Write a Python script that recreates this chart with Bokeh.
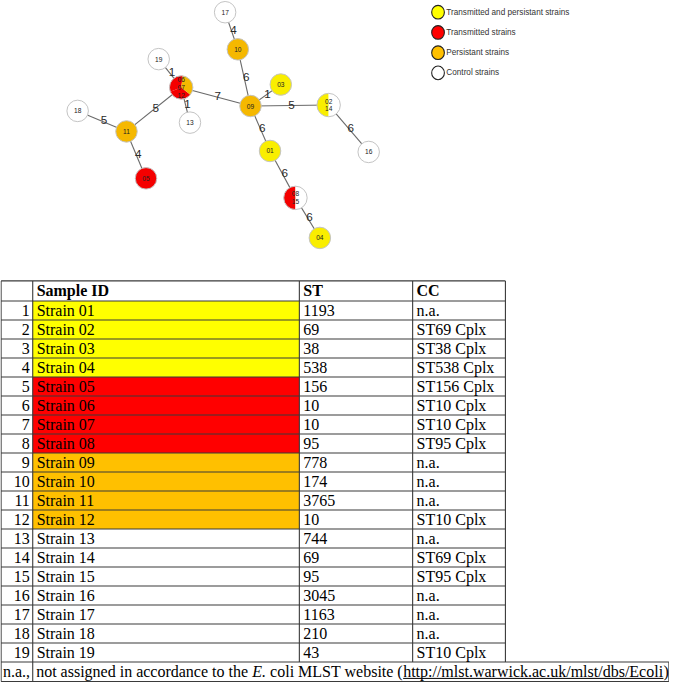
import math
from bokeh.plotting import figure
from bokeh.models import Range1d
from bokeh.core.properties import value
from bokeh.embed import file_html
from bokeh.resources import INLINE

# ---------------- data ----------------
row_numbers = [1, 2, 3, 4, 5, 6, 7, 8, 9, 10, 11, 12, 13, 14, 15, 16, 17, 18, 19]
sample_ids = ["Strain 01", "Strain 02", "Strain 03", "Strain 04", "Strain 05",
              "Strain 06", "Strain 07", "Strain 08", "Strain 09", "Strain 10",
              "Strain 11", "Strain 12", "Strain 13", "Strain 14", "Strain 15",
              "Strain 16", "Strain 17", "Strain 18", "Strain 19"]
st_values = ["1193", "69", "38", "538", "156", "10", "10", "95", "778", "174",
             "3765", "10", "744", "69", "95", "3045", "1163", "210", "43"]
cc_values = ["n.a.", "ST69 Cplx", "ST38 Cplx", "ST538 Cplx", "ST156 Cplx",
             "ST10 Cplx", "ST10 Cplx", "ST95 Cplx", "n.a.", "n.a.", "n.a.",
             "ST10 Cplx", "n.a.", "ST69 Cplx", "ST95 Cplx", "n.a.", "n.a.",
             "n.a.", "ST10 Cplx"]
categories = ["both", "both", "both", "both",
              "transmitted", "transmitted", "transmitted", "transmitted",
              "persistent", "persistent", "persistent", "persistent",
              "control", "control", "control", "control", "control", "control", "control"]
header_labels = ["Sample ID", "ST", "CC"]
footnote_abbrev = "n.a.,"
footnote_parts = ["not assigned in accordance to the ", "E.", " coli MLST website (",
                  "http://mlst.warwick.ac.uk/mlst/dbs/Ecoli", ")"]

legend_labels = ["Transmitted and persistant strains", "Transmitted strains",
                 "Persistant strains", "Control strains"]
legend_categories = ["both", "transmitted", "persistent", "control"]

# minimum-spanning-tree nodes (strain numbers in each node)
node_groups = [["01"], ["02", "14"], ["03"], ["04"], ["05"], ["06", "07", "12"],
               ["08", "15"], ["09"], ["10"], ["11"], ["13"], ["16"], ["17"],
               ["18"], ["19"]]
# tree edges: (node, node, allelic differences)
edge_from = ["17", "10", "09", "09", "09", "09", "01", "08/15", "02/14", "19",
             "06/07/12", "06/07/12", "11", "11"]
edge_to = ["10", "09", "03", "02/14", "01", "06/07/12", "08/15", "04", "16",
           "06/07/12", "13", "11", "18", "05"]
edge_weight = [4, 6, 1, 5, 6, 7, 6, 6, 6, 1, 1, 5, 5, 4]

# graph layout (image-space coordinates of the drawn tree)
layout_x = [276, 336, 287, 327, 149, 185, 302, 256, 243, 129, 194, 377, 230, 79, 162]
layout_y = [154, 107, 86, 243, 182, 89, 202, 108, 50, 134, 125, 155, 12, 113, 60]

# ---------------- styling ----------------
W_REF, H_REF = 685, 698
PW, PH = 669, 682
S = PW / W_REF

net_colors = {"both": "#F9EE00", "transmitted": "#F40000",
              "persistent": "#F5B800", "control": "#FFFFFF"}
tab_colors = {"both": "#FFFF00", "transmitted": "#FF0000", "persistent": "#FFC000"}
leg_colors = {"both": "#FFFF00", "transmitted": "#FF0000",
              "persistent": "#FFC000", "control": "#FFFFFF"}

def Y(y):
    return H_REF - y

p = figure(width=PW, height=PH, x_range=Range1d(0, W_REF), y_range=Range1d(0, H_REF),
           output_backend="svg", toolbar_location=None, min_border=0,
           x_axis_location=None, y_axis_location=None)
p.grid.visible = False
p.outline_line_color = None
p.background_fill_color = "white"

SANS = value("Liberation Sans")

# ---------------- network ----------------
keys = ["/".join(g) for g in node_groups]
pos = {k: (x, Y(y)) for k, x, y in zip(keys, layout_x, layout_y)}
strain_cat = {sid.split()[-1]: c for sid, c in zip(sample_ids, categories)}

ex0 = [pos[a][0] for a in edge_from]
ey0 = [pos[a][1] for a in edge_from]
ex1 = [pos[b][0] for b in edge_to]
ey1 = [pos[b][1] for b in edge_to]
p.segment(ex0, ey0, ex1, ey1, line_color="#6a6a6a", line_width=1.1)

lx = [(a + b) / 2 + 2 for a, b in zip(ex0, ex1)]
ly = [(a + b) / 2 + 1 for a, b in zip(ey0, ey1)]
p.text(lx, ly, text=[str(w) for w in edge_weight], text_font=SANS,
       text_font_size=f"{12*S:.1f}px", text_color="#2a2a2a",
       text_align="center", text_baseline="middle")

R1, R2 = 11, 12
cx, cy, cr, cfill = [], [], [], []
wx, wy, wr, ws, we, wfill = [], [], [], [], [], []
tx, ty, tt = [], [], []
for k, g in zip(keys, node_groups):
    x, y = pos[k]
    n = len(g)
    r = R1 if n == 1 else R2
    if n == 1:
        cx.append(x); cy.append(y); cr.append(r); cfill.append(net_colors[strain_cat[g[0]]])
    else:
        start = math.radians(82 if n == 3 else 90)
        step = 2 * math.pi / n
        for i, s in enumerate(g):
            wx.append(x); wy.append(y); wr.append(r)
            ws.append(start + i * step); we.append(start + (i + 1) * step)
            wfill.append(net_colors[strain_cat[s]])
    for i, s in enumerate(g):
        tx.append(x); ty.append(y - (i - (n - 1) / 2) * 8); tt.append(s)

p.circle(cx, cy, radius=cr, fill_color=cfill, line_color=None)
p.wedge(wx, wy, radius=wr, start_angle=ws, end_angle=we, fill_color=wfill,
        line_color=None, direction="anticlock")
ox = [pos[k][0] for k in keys]
oy = [pos[k][1] for k in keys]
orr = [R1 if len(g) == 1 else R2 for g in node_groups]
p.circle(ox, oy, radius=orr, fill_color=None, line_color="#C4C4C4", line_width=1)
p.text(tx, ty, text=tt, text_font=SANS,
       text_font_size=f"{6.8*S:.1f}px", text_color="#222222",
       text_align="center", text_baseline="middle")

# ---------------- legend ----------------
leg_y = [Y(12 + 20.7 * i) for i in range(len(legend_labels))]
p.ellipse([448] * 4, leg_y, width=13, height=14,
          fill_color=[leg_colors[c] for c in legend_categories],
          line_color="#222222", line_width=1.1)
p.text([456.5] * 4, leg_y, text=legend_labels,
       text_font=SANS, text_font_size=f"{8.4*S:.1f}px",
       text_color="#333333", text_align="left", text_baseline="middle")

# ---------------- table ----------------
T_TOP = 287
H_BOT = 307.6
PITCH = 19.44
col_x = [0.6, 33, 306, 422, 517]
n_rows = len(sample_ids)
T_BOT = H_BOT + PITCH * n_rows
F_BOT = 697
F_RIGHT = 684.4

# coloured sample cells
qi = [i for i, c in enumerate(categories) if c in tab_colors]
p.quad(left=[col_x[1]] * len(qi), right=[col_x[2]] * len(qi),
       top=[Y(H_BOT + PITCH * i) for i in qi],
       bottom=[Y(H_BOT + PITCH * (i + 1)) for i in qi],
       fill_color=[tab_colors[categories[i]] for i in qi], line_color=None)

# grid lines
hy = [T_TOP, H_BOT] + [H_BOT + PITCH * (i + 1) for i in range(n_rows)]
hx1 = [col_x[-1]] * (len(hy) - 1) + [F_RIGHT]
p.segment([col_x[0]] * len(hy), [Y(v) for v in hy], hx1, [Y(v) for v in hy],
          line_color="#3a3a3a", line_width=1.1)
p.segment([col_x[0]], [Y(F_BOT)], [F_RIGHT], [Y(F_BOT)], line_color="#3a3a3a", line_width=1.1)
p.segment(col_x, [Y(T_TOP)] * len(col_x), col_x, [Y(T_BOT)] * len(col_x),
          line_color="#3a3a3a", line_width=1.1)
fvx = [col_x[0], col_x[1], F_RIGHT]
p.segment(fvx, [Y(T_BOT)] * 3, fvx, [Y(F_BOT)] * 3, line_color="#3a3a3a", line_width=1.1)

EM = 16.4
FS = f"{EM*S:.1f}px"
SERIF = value("Liberation Serif")
row_y = [Y(H_BOT + PITCH * (i + 0.5)) for i in range(n_rows)]
hdr_y = Y((T_TOP + H_BOT) / 2)
p.text([col_x[1] + 4, col_x[2] + 4, col_x[3] + 4], [hdr_y] * 3, text=header_labels,
       text_font=SERIF, text_font_size=FS, text_font_style="bold",
       text_color="black", text_baseline="middle")
p.text([col_x[1] - 3] * n_rows, row_y, text=[str(n) for n in row_numbers],
       text_font=SERIF, text_font_size=FS, text_color="black",
       text_align="right", text_baseline="middle")
p.text([col_x[1] + 4] * n_rows, row_y, text=sample_ids, text_font=SERIF,
       text_font_size=FS, text_color="black", text_baseline="middle")
p.text([col_x[2] + 4] * n_rows, row_y, text=st_values, text_font=SERIF,
       text_font_size=FS, text_color="black", text_baseline="middle")
p.text([col_x[3] + 4] * n_rows, row_y, text=cc_values, text_font=SERIF,
       text_font_size=FS, text_color="black", text_baseline="middle")

# footnote (Times metrics for piece placement)
TW = {' ': 250, '(': 333, ')': 333, '.': 250, '/': 278, ':': 278, ',': 250,
      'a': 444, 'b': 500, 'c': 444, 'd': 500, 'e': 444, 'f': 333, 'g': 500,
      'h': 500, 'i': 278, 'k': 500, 'l': 278, 'm': 778, 'n': 500, 'o': 500,
      'p': 500, 'r': 333, 's': 389, 't': 278, 'u': 500, 'w': 722, 'E': 611,
      'L': 611, 'M': 889, 'S': 556, 'T': 611}

def tw(s):
    return sum(TW.get(ch, 500) for ch in s) / 1000 * EM

fy = Y((T_BOT + F_BOT) / 2)
p.text([2.5], [fy], text=[footnote_abbrev], text_font=SERIF, text_font_size=FS,
       text_color="black", text_baseline="middle")
xcur = 36.5
starts = []
for part in footnote_parts:
    starts.append(xcur)
    xcur += tw(part)
for i, part in enumerate(footnote_parts):
    body = part.strip()
    lead = len(part) - len(part.lstrip())
    p.text([starts[i] + tw(" " * lead)], [fy], text=[body], text_font=SERIF,
           text_font_size=FS, text_color="black", text_baseline="middle",
           text_font_style="italic" if i == 1 else "normal")
url_i = 3
p.segment([starts[url_i]], [Y(F_BOT - 3.2)], [starts[url_i] + tw(footnote_parts[url_i])],
          [Y(F_BOT - 3.2)], line_color="black", line_width=1)

open("out.html", "w").write(file_html(p, INLINE))
